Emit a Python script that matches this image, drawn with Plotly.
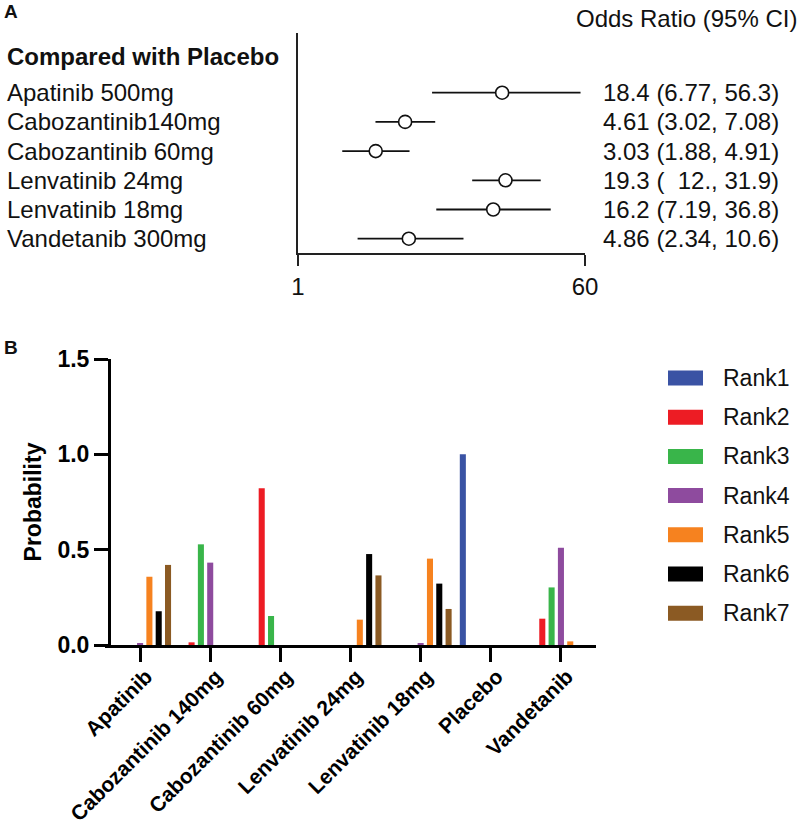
import plotly.graph_objects as go

# ---------------- Panel A data (odds ratios vs placebo) ----------------
comparisons = ["Apatinib 500mg", "Cabozantinib140mg", "Cabozantinib 60mg",
               "Lenvatinib 24mg", "Lenvatinib 18mg", "Vandetanib 300mg"]
odds_ratio = [18.4, 4.61, 3.03, 19.3, 16.2, 4.86]
ci_low = [6.77, 3.02, 1.88, 12.0, 7.19, 2.34]
ci_high = [56.3, 7.08, 4.91, 31.9, 36.8, 10.6]
ci_text = ["18.4 (6.77, 56.3)", "4.61 (3.02, 7.08)", "3.03 (1.88, 4.91)",
           "19.3 (\u00a0\u00a012., 31.9)", "16.2 (7.19, 36.8)", "4.86 (2.34, 10.6)"]
or_ticks = [1, 60]
or_ticktext = ["1", "60"]

# ---------------- Panel B data (rank probabilities) ----------------
treatments = ["Apatinib", "Cabozantinib 140mg", "Cabozantinib 60mg",
              "Lenvatinib 24mg", "Lenvatinib 18mg", "Placebo", "Vandetanib"]
rank_names = ["Rank1", "Rank2", "Rank3", "Rank4", "Rank5", "Rank6", "Rank7"]
rank1 = [0, 0, 0, 0, 0, 1.0, 0]
rank2 = [0, 0.014, 0.822, 0, 0, 0, 0.138]
rank3 = [0, 0.528, 0.152, 0, 0, 0, 0.302]
rank4 = [0.009, 0.432, 0, 0, 0.008, 0, 0.51]
rank5 = [0.358, 0, 0, 0.133, 0.453, 0, 0.019]
rank6 = [0.177, 0, 0, 0.477, 0.322, 0, 0]
rank7 = [0.42, 0, 0, 0.365, 0.189, 0, 0]
rank_values = [rank1, rank2, rank3, rank4, rank5, rank6, rank7]
rank_colors = ["#3A53A4", "#ED1C24", "#39B54A", "#8E4B9E", "#F6821F", "#000000", "#8B5A23"]
prob_ticks = [0.0, 0.5, 1.0, 1.5]

FONT = "Liberation Sans, Arial, sans-serif"
W, H = 800, 826


def px(xp):
    return xp / W


def py(yp):
    return 1 - yp / H


fig = go.Figure()

# ---------------- Panel A ----------------
n = len(comparisons)
row_y = [n - i for i in range(n)]
fig.add_trace(go.Scatter(
    x=odds_ratio, y=row_y, mode="markers",
    marker=dict(symbol="circle", size=13, color="white",
                line=dict(color="#111111", width=1.6)),
    error_x=dict(type="data", symmetric=False,
                 array=[h - o for h, o in zip(ci_high, odds_ratio)],
                 arrayminus=[o - l for o, l in zip(odds_ratio, ci_low)],
                 color="#111111", thickness=1.8, width=0),
    xaxis="x", yaxis="y", showlegend=False, hoverinfo="skip"))

annotations = []
for name, yv, txt in zip(comparisons, row_y, ci_text):
    annotations.append(dict(x=px(5), xref="paper", y=yv, yref="y", text=name,
                            showarrow=False, xanchor="left", yanchor="middle",
                            font=dict(family=FONT, size=24, color="#111111")))
    annotations.append(dict(x=px(601), xref="paper", y=yv, yref="y", text=txt,
                            showarrow=False, xanchor="left", yanchor="middle",
                            font=dict(family=FONT, size=24, color="#111111")))
annotations += [
    dict(x=px(5), xref="paper", y=py(57), yref="paper", text="<b>Compared with Placebo</b>",
         showarrow=False, xanchor="left", yanchor="middle",
         font=dict(family=FONT, size=24, color="#111111")),
    dict(x=px(799), xref="paper", y=py(18), yref="paper", text="Odds Ratio (95% CI)",
         showarrow=False, xanchor="right", yanchor="middle",
         font=dict(family=FONT, size=24, color="#111111")),
    dict(x=px(2), xref="paper", y=py(11), yref="paper", text="<b>A</b>",
         showarrow=False, xanchor="left", yanchor="middle",
         font=dict(family=FONT, size=19, color="#111111")),
    dict(x=px(2), xref="paper", y=py(348), yref="paper", text="<b>B</b>",
         showarrow=False, xanchor="left", yanchor="middle",
         font=dict(family=FONT, size=19, color="#111111")),
]

# ---------------- Panel B ----------------
for name, vals, col in zip(rank_names, rank_values, rank_colors):
    fig.add_trace(go.Bar(x=treatments, y=vals, name=name, marker_color=col,
                         marker_line_width=0, xaxis="x2", yaxis="y2",
                         showlegend=False, hoverinfo="skip"))

# custom legend (wide swatches like the original)
shapes = []
for i, (name, col) in enumerate(zip(rank_names, rank_colors)):
    yc = 378 + 39.2 * i
    shapes.append(dict(type="rect", xref="paper", yref="paper",
                       x0=px(668), x1=px(703), y0=py(yc - 7.5), y1=py(yc + 7.5),
                       fillcolor=col, line=dict(width=0)))
    annotations.append(dict(x=px(721), xref="paper", y=py(yc), yref="paper", text=name,
                            showarrow=False, xanchor="left", yanchor="middle",
                            font=dict(family=FONT, size=23, color="#111111")))

fig.update_layout(
    width=W, height=H, autosize=False,
    margin=dict(l=0, r=0, t=0, b=0, autoexpand=False),
    paper_bgcolor="white", plot_bgcolor="white",
    font=dict(family=FONT, color="#111111"),
    barmode="group", bargap=0.07, bargroupgap=0.35,
    annotations=annotations, shapes=shapes,
    xaxis=dict(domain=[px(298), px(585)], type="log",
               range=[0, 1.77815], tickvals=or_ticks, ticktext=or_ticktext,
               showline=True, linecolor="#222222", linewidth=2,
               ticks="outside", ticklen=11, tickwidth=2, tickcolor="#222222",
               tickfont=dict(family=FONT, size=24, color="#111111"),
               showgrid=False, zeroline=False, anchor="y", fixedrange=True,
               automargin=False),
    yaxis=dict(domain=[py(253), py(33)], range=[0.51, 8.044],
               showline=True, linecolor="#222222", linewidth=2,
               showticklabels=False, ticks="", showgrid=False, zeroline=False,
               anchor="x", fixedrange=True, automargin=False),
    xaxis2=dict(domain=[px(105), px(596)], range=[-0.5, 6.5],
                showline=True, linecolor="black", linewidth=3,
                ticks="outside", ticklen=14, tickwidth=3, tickcolor="black",
                tickangle=-45, ticklabelshift=6, ticklabelstandoff=-6,
                tickfont=dict(family=FONT, size=21, color="black", weight="bold"),
                showgrid=False, zeroline=False, anchor="y2", fixedrange=True,
                automargin=False),
    yaxis2=dict(domain=[py(645), py(359)], range=[0, 1.5],
                tickvals=prob_ticks, ticktext=["0.0", "0.5", "1.0", "1.5"],
                showline=True, linecolor="black", linewidth=3,
                ticks="outside", ticklen=14, tickwidth=3, tickcolor="black",
                tickfont=dict(family=FONT, size=23, color="black", weight="bold"),
                title=dict(text="Probability", standoff=8,
                           font=dict(family=FONT, size=23, color="black", weight="bold")),
                showgrid=False, zeroline=False, anchor="free", position=px(109),
                fixedrange=True, automargin=False),
)

fig.write_html("out.html", config={"displayModeBar": False},
               post_script="document.body.style.margin='0px';document.body.style.padding='0px';")
